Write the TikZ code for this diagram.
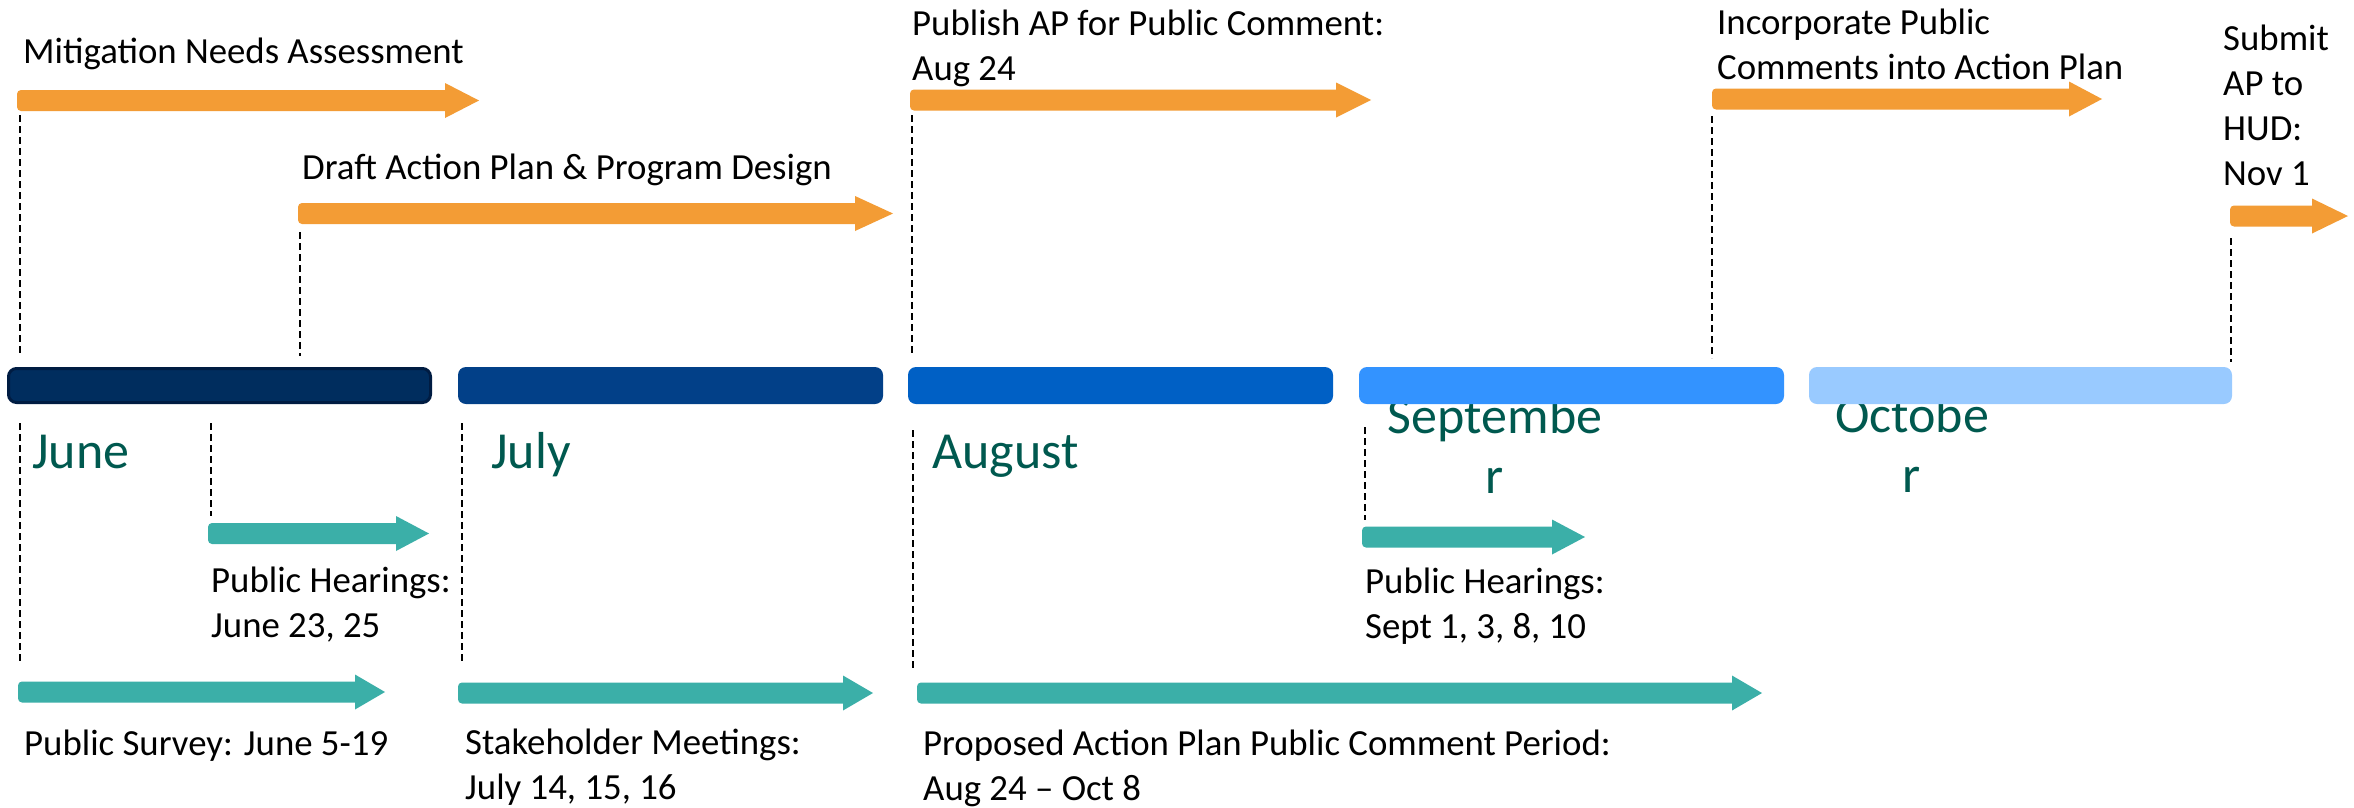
\documentclass[tikz,border=0pt]{standalone}
\usepackage{fontspec}
\setmainfont{Carlito}
\definecolor{orng}{HTML}{F39C35}
\definecolor{teal2}{HTML}{3BAFA8}
\definecolor{mtxt}{HTML}{00594F}
\definecolor{cjune}{HTML}{002D5E}
\definecolor{cjuneb}{HTML}{001C42}
\definecolor{cjuly}{HTML}{024088}
\definecolor{caug}{HTML}{0060C5}
\definecolor{csep}{HTML}{3393FF}
\definecolor{coct}{HTML}{99CAFF}
\newcommand\tlarrow[5]{% colour, tail x, head start x, tip x, centre y
  \fill[#1] (#3,#5+10.5) [rounded corners=4pt] -- (#2,#5+10.5) -- (#2,#5-10.5) [sharp corners] -- (#3,#5-10.5) -- (#3,#5-17.5) -- (#4,#5) -- (#3,#5+17.5) -- cycle;
}
\begin{document}
\begin{tikzpicture}[x=1pt,y=-1pt,
  lbl/.style={inner sep=0pt, anchor=base west, align=left, font=\fontsize{36.8pt}{45pt}\selectfont},
  mlbl/.style={inner sep=0pt, anchor=base west, text=mtxt, font=\fontsize{52pt}{60pt}\selectfont},
  mlblc/.style={inner sep=0pt, anchor=base, align=center, text=mtxt, font=\fontsize{52pt}{60pt}\selectfont},
  bar/.style={rectangle, rounded corners=8pt, minimum height=37pt, inner sep=0pt},
  dl/.style={draw=black, line width=1.4pt, dash pattern=on 7pt off 4pt}]
\useasboundingbox (0,0) rectangle (2354,807);
\fill[white] (0,0) rectangle (2354,807);

% month labels (behind bars); multi-line nodes are placed by their last baseline
\node[mlbl] (june) at (32,468) {June};
\node[mlbl] (july) at (491,468) {July};
\node[mlbl] (aug) at (932,468) {August};
\node[mlblc] (sep) at (1495,493) {Septembe\\r};
\node[mlblc] (oct) at (1912,492) {Octobe\\r};

% month bars
\node[bar, fill=cjune, draw=cjuneb, line width=3pt, minimum width=422pt, minimum height=34pt] (bjune) at (219.5,385.5) {};
\node[bar, fill=cjuly, minimum width=425pt] (bjuly) at (670.5,385.5) {};
\node[bar, fill=caug, minimum width=425pt] (baug) at (1120.5,385.5) {};
\node[bar, fill=csep, minimum width=425pt] (bsep) at (1571.5,385.5) {};
\node[bar, fill=coct, minimum width=423pt] (boct) at (2020.5,385.5) {};

% dashed guide lines
\draw[dl] (20,115) -- (20,356);
\draw[dl] (300,232) -- (300,356);
\draw[dl] (912,115) -- (912,356);
\draw[dl] (1712,116) -- (1712,358);
\draw[dl] (2231,238) -- (2231,362);
\draw[dl] (20,423) -- (20,662);
\draw[dl] (211,423) -- (211,516);
\draw[dl] (462,423) -- (462,662);
\draw[dl] (913,430) -- (913,668);
\draw[dl] (1365,427) -- (1365,520);

% orange arrows
\tlarrow{orng}{17}{445}{479}{100.5}
\tlarrow{orng}{298}{855}{893}{213.5}
\tlarrow{orng}{910}{1336}{1371}{100}
\tlarrow{orng}{1712}{2069}{2102}{99}
\tlarrow{orng}{2230}{2312}{2348}{216}

% teal arrows
\tlarrow{teal2}{208}{396}{429}{533.5}
\tlarrow{teal2}{1362}{1552}{1585}{537}
\tlarrow{teal2}{18}{355}{385}{692}
\tlarrow{teal2}{458}{843}{873}{693}
\tlarrow{teal2}{917}{1732}{1762}{693}

% labels
\node[lbl] (mna) at (23,63) {Mitigation Needs Assessment};
\node[lbl] (dap) at (302,179) {Draft Action Plan \& Program Design};
\node[lbl] (pub) at (912,80) {Publish AP for Public Comment:\\Aug 24};
\node[lbl] (inc) at (1717,79) {Incorporate Public\\Comments into Action Plan};
\node[lbl] (sub) at (2223,185) {Submit\\AP to\\HUD:\\Nov 1};
\node[lbl] (ph1) at (211,637) {Public Hearings:\\June 23, 25};
\node[lbl] (ph2) at (1365,638) {Public Hearings:\\Sept 1, 3, 8, 10};
\node[lbl] (ps) at (24,755) {Public Survey: June 5-19};
\node[lbl] (sm) at (465,799) {Stakeholder Meetings:\\July 14, 15, 16};
\node[lbl] (pc) at (923,800) {Proposed Action Plan Public Comment Period:\\Aug 24 – Oct 8};
\end{tikzpicture}
\end{document}
